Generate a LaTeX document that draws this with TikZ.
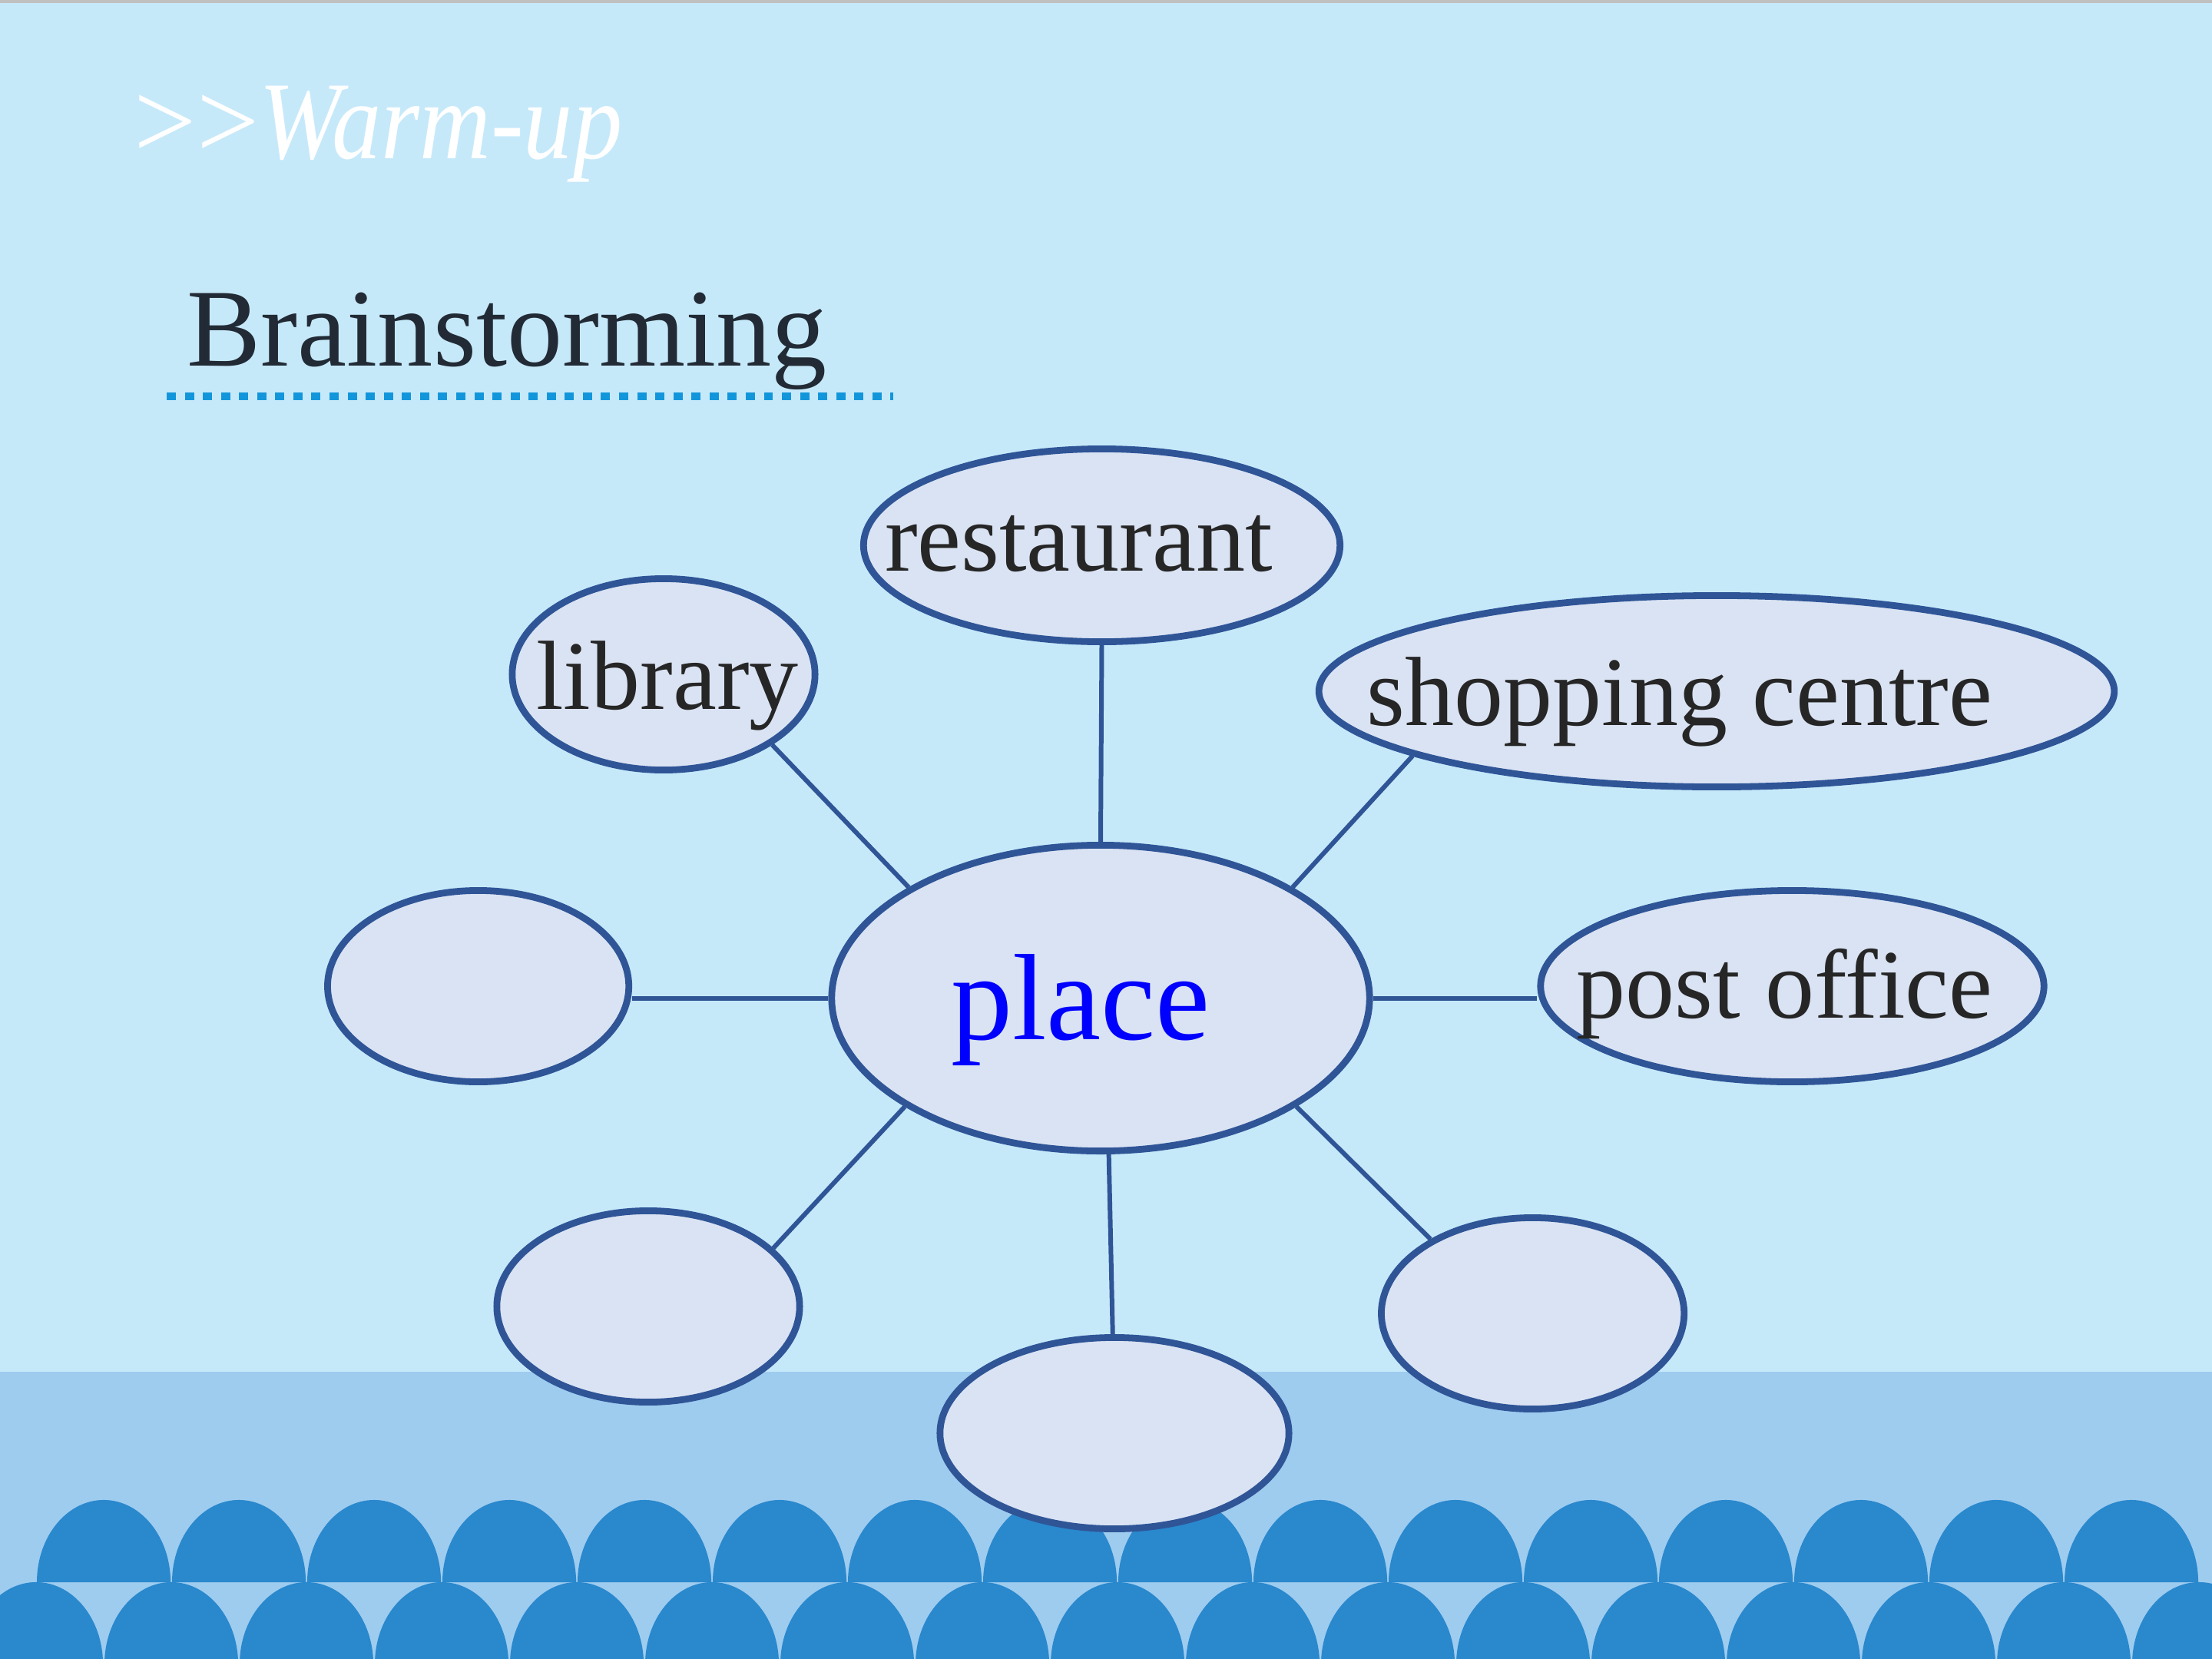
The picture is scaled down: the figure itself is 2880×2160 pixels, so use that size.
\documentclass[tikz,border=0pt]{standalone}
\usepackage{fontspec}
\setmainfont{Liberation Serif}
\usetikzlibrary{shapes.geometric}
\definecolor{bgtop}{HTML}{C6E9FA}
\definecolor{bandc}{HTML}{9ECCEF}
\definecolor{archc}{HTML}{2A88CD}
\definecolor{ellfill}{HTML}{DAE3F3}
\definecolor{elldraw}{HTML}{2F5597}
\definecolor{dotc}{HTML}{1296DB}
\definecolor{titlec}{HTML}{222B35}
\definecolor{txtc}{HTML}{262626}
\definecolor{topline}{HTML}{C0C0C0}
\pgfdeclarelayer{back}
\pgfdeclarelayer{mid}
\pgfsetlayers{back,mid,main}
\tikzset{
  bubble/.style={ellipse, draw=elldraw, fill=ellfill, line width=2.5pt, inner sep=0pt},
  word/.style={text=txtc, font=\fontsize{36.42pt}{40pt}\selectfont, inner sep=0pt, text height=25.5pt, text depth=0pt},
  bigword/.style={text=blue, font=\fontsize{45.5pt}{50pt}\selectfont, inner sep=0pt, text height=31.9pt, text depth=0pt},
  conn/.style={draw=elldraw, line width=1.7pt},
  wave/.style={fill=archc}
}
\begin{document}
\begin{tikzpicture}[x=0.01cm, y=-0.01cm]
\useasboundingbox (0,0) rectangle (2880,2160);
\begin{pgfonlayer}{back}
  \fill[bgtop] (0,0) rectangle (2880,2160);
  \fill[topline] (0,0) rectangle (2880,4);
  \fill[bandc] (0,1786) rectangle (2880,2160);
  \begin{scope}
    \clip (0,0) rectangle (2880,2160);
    \foreach \i in {0,...,15} {
      \fill[wave] ({135+176*\i-87},2060) arc[start angle=180, end angle=0, x radius=0.87cm, y radius=1.07cm] -- cycle;
    }
    \foreach \i in {0,...,16} {
      \fill[wave] ({47+176*\i-87},2167) arc[start angle=180, end angle=0, x radius=0.87cm, y radius=1.07cm] -- cycle;
    }
  \end{scope}
  % title
  \node[anchor=base west, inner sep=0pt, text=white, font=\fontsize{41pt}{46pt}\selectfont] (warm) at (174,206) {\textgreater\kern0pt\textgreater\scalebox{0.89}[1]{\itshape Warm-up}};
  \node[anchor=base west, inner sep=0pt, text=titlec, font=\fontsize{41pt}{46pt}\selectfont] (brain) at (243,476) {Brainstorming};
  \draw[dotc, line width=2.85pt, dash pattern=on 3.4pt off 3.3pt] (217,516) -- (1163,516);
\end{pgfonlayer}

% bubbles
\node[bubble, minimum width=7.00cm, minimum height=3.98cm,
      label={[bigword, xshift=-0.26cm, yshift=0.02cm]center:place}] (place) at (1433,1299.5) {};
\node[bubble, minimum width=6.20cm, minimum height=2.51cm,
      label={[word, xshift=-0.30cm, yshift=0.11cm]center:restaurant}] (rest) at (1434.5,710) {};
\node[bubble, minimum width=3.94cm, minimum height=2.49cm,
      label={[word, xshift=0.05cm, yshift=-0.01cm]center:library}] (lib) at (864,878) {};
\node[bubble, minimum width=10.35cm, minimum height=2.49cm,
      label={[word, xshift=-0.48cm]center:shopping centre}] (shop) at (2235,900) {};
\node[bubble, minimum width=6.55cm, minimum height=2.49cm,
      label={[word, xshift=-0.10cm, yshift=0.03cm]center:post office}] (po) at (2333.5,1284) {};
\node[bubble, minimum width=3.92cm, minimum height=2.49cm] (lft) at (622.6,1284) {};
\node[bubble, minimum width=3.94cm, minimum height=2.49cm] (bl) at (844,1701) {};
\node[bubble, minimum width=4.54cm, minimum height=2.49cm] (bot) at (1451,1866) {};
\node[bubble, minimum width=3.94cm, minimum height=2.49cm] (br) at (1995.6,1710) {};

% connectors
\begin{pgfonlayer}{mid}
  \draw[conn] (place.north) -- (rest.south);
  \draw[conn] (place.150.2) -- (lib.-33.5);
  \draw[conn] (place.30) -- (shop.192.6);
  \draw[conn] (place.east) -- (place.east -| po.west);
  \draw[conn] (place.west) -- (place.west -| lft.east);
  \draw[conn] (place.209.8) -- (bl.25.2);
  \draw[conn] (place.-87.9) -- (bot.91.6);
  \draw[conn] (place.-29.6) -- (br.144.7);
\end{pgfonlayer}
\end{tikzpicture}
\end{document}
